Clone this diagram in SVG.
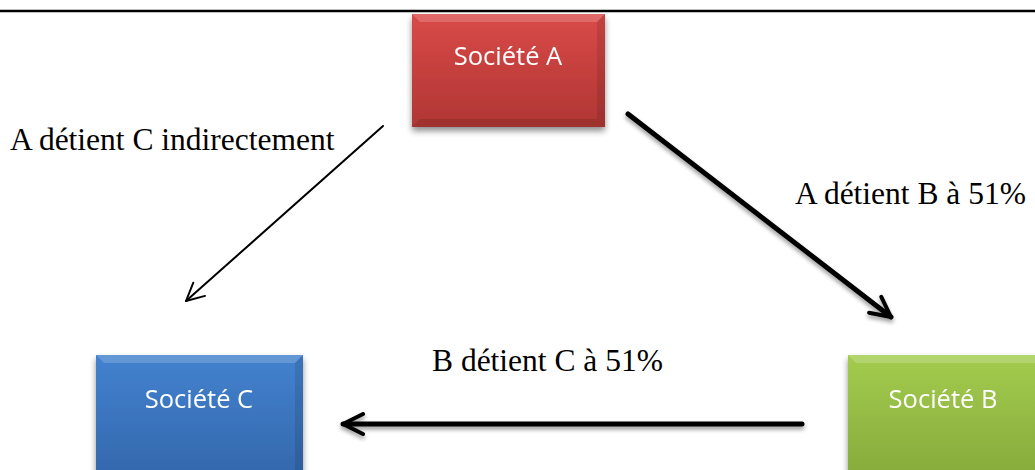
<svg xmlns="http://www.w3.org/2000/svg" width="1035" height="470" viewBox="0 0 1035 470">
  <defs>
    <linearGradient id="gradRed" x1="0" y1="0" x2="0" y2="1">
      <stop offset="0" stop-color="#d94a48"/>
      <stop offset="1" stop-color="#b03634"/>
    </linearGradient>
    <linearGradient id="gradBlue" x1="0" y1="0" x2="0" y2="1">
      <stop offset="0" stop-color="#4382cf"/>
      <stop offset="1" stop-color="#3468ad"/>
    </linearGradient>
    <linearGradient id="gradGreen" x1="0" y1="0" x2="0" y2="1">
      <stop offset="0" stop-color="#a3cc4e"/>
      <stop offset="1" stop-color="#87ab3b"/>
    </linearGradient>
    <filter id="shadow" x="-10%" y="-10%" width="120%" height="130%">
      <feGaussianBlur in="SourceAlpha" stdDeviation="3"/>
      <feOffset dx="0" dy="4" result="b"/>
      <feComponentTransfer><feFuncA type="linear" slope="0.45"/></feComponentTransfer>
      <feMerge><feMergeNode/><feMergeNode in="SourceGraphic"/></feMerge>
    </filter>
    <filter id="lineShadow" filterUnits="userSpaceOnUse" x="0" y="0" width="1035" height="470">
      <feGaussianBlur in="SourceAlpha" stdDeviation="2"/>
      <feOffset dx="0" dy="3"/>
      <feComponentTransfer><feFuncA type="linear" slope="0.4"/></feComponentTransfer>
      <feMerge><feMergeNode/><feMergeNode in="SourceGraphic"/></feMerge>
    </filter>
    <marker id="openHead" viewBox="0 0 10 10" refX="9" refY="5" markerWidth="5" markerHeight="5" orient="auto" markerUnits="strokeWidth">
      <path d="M1,1 L9,5 L1,9" fill="none" stroke="#000" stroke-width="1.6" stroke-linecap="round" stroke-linejoin="round"/>
    </marker>
    <marker id="openHeadThin" viewBox="0 0 10 10" refX="9" refY="5" markerWidth="11" markerHeight="11" orient="auto" markerUnits="strokeWidth">
      <path d="M1,1 L9,5 L1,9" fill="none" stroke="#000" stroke-width="0.9" stroke-linecap="round" stroke-linejoin="round"/>
    </marker>
  </defs>
  <style>
    .box-label { font-family: "Open Sans", "Liberation Sans", sans-serif; font-size: 25.5px; fill: #ffffff; text-anchor: middle; }
    .edge-label { font-family: "Liberation Serif", serif; font-size: 31.5px; fill: #000000; }
    .bevel-light { fill: #ffffff; opacity: 0.18; }
    .bevel-dark { fill: #000000; opacity: 0.1; }
  </style>

  <rect width="1035" height="470" fill="#ffffff"/>
  <!-- page rule -->
  <line x1="0" y1="11" x2="1035" y2="11" stroke="#000" stroke-width="2.5"/>

  <g id="node-a" filter="url(#shadow)">
    <rect x="412" y="14" width="193" height="113" fill="url(#gradRed)"/>
    <polygon class="bevel-light" points="412,14 605,14 597,22 420,22"/>
    <polygon class="bevel-dark" points="412,127 605,127 597,119 420,119"/>
    <polygon class="bevel-dark" points="605,14 605,127 597,119 597,22"/>
    <text class="box-label" x="508" y="65">Société A</text>
  </g>

  <g id="node-c" filter="url(#shadow)">
    <rect x="96" y="355" width="207" height="120" fill="url(#gradBlue)"/>
    <polygon class="bevel-light" points="96,355 303,355 295,363 104,363"/>
    <polygon class="bevel-dark" points="303,355 303,475 295,475 295,363"/>
    <text class="box-label" x="199" y="408">Société C</text>
  </g>

  <g id="node-b" filter="url(#shadow)">
    <rect x="848" y="355" width="200" height="120" fill="url(#gradGreen)"/>
    <polygon class="bevel-light" points="848,355 1048,355 1040,363 856,363"/>
    <text class="box-label" x="943" y="408">Société B</text>
  </g>

  <g id="connectors">
    <path d="M628,114 L891,317" fill="none" stroke="#000" stroke-width="5" stroke-linecap="round" marker-end="url(#openHead)" filter="url(#lineShadow)"/>
    <path d="M802,424 L343,424" fill="none" stroke="#000" stroke-width="5" stroke-linecap="round" marker-end="url(#openHead)" filter="url(#lineShadow)"/>
    <path d="M383,126 L186,301" fill="none" stroke="#000" stroke-width="2" stroke-linecap="round" marker-end="url(#openHeadThin)"/>
  </g>

  <g id="labels">
    <text class="edge-label" x="10" y="150">A détient C indirectement</text>
    <text class="edge-label" x="795" y="204">A détient B à 51%</text>
    <text class="edge-label" x="432" y="371">B détient C à 51%</text>
  </g>
</svg>
